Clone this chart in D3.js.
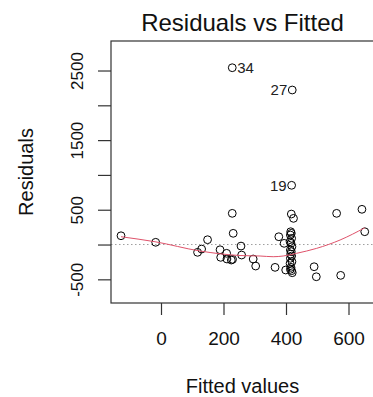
<!DOCTYPE html>
<html>
<head>
<meta charset="utf-8">
<script src="https://cdn.jsdelivr.net/npm/d3@7"></script>
<style>
  body { margin: 0; background: white; }
  svg { font-family: "Liberation Sans", Arial, sans-serif; }
</style>
</head>
<body>
<script>
// Fitted values of the model (x) for every observation.
const fitted = [-128, -17, 117, 130, 149, 189, 191, 210, 211, 228, 231, 229, 225,
    256, 258, 295, 303, 365, 377, 394, 399,
    415, 417, 414, 418, 413, 416, 419, 414, 417, 415, 418, 414, 419, 413, 416, 414, 418, 420,
    417, 424, 490, 497, 562, 575, 643, 652,
    228, 420, 418];

// Residuals for the same observations.
const residuals = [126, 32, -112, -65, 69, -75, -184, -126, -208, 448, 161, -213, -223,
    -22, -151, -208, -309, -328, 112, 17, -366,
    184, 161, 137, 89, 40, 17, -32, -79, -103, -137, -165, -198, -247, -270, -328, -356, -376, -405,
    438, 376, -319, -463, 448, -443, 506, 184,
    2540, 2220, 851];

// Observation labels ("" when the point is not flagged).
const pointLabels = Array(47).fill("").concat(["34", "27", "19"]);

// Lowess smoother.
const smoothX = [-128, -19, 125, 253, 317, 359, 391, 434, 498, 573, 652];
const smoothY = [112, 40, -93, -158, -165, -175, -165, -126, -55, 65, 240];

// Tick values, and the y ticks that carry a label.
const xTicks = [0, 200, 400, 600];
const yTicks = [-500, 0, 500, 1000, 1500, 2000, 2500];
const yLabels = [-500, 500, 1500, 2500];

// Plot region.
const Left = 111, Right = 374, Top = 41, Bottom = 303;

const svg = d3.select("body").append("svg")
    .attr("width", 373)
    .attr("height", 397);

const x = d3.scaleLinear().domain([-160, 681.6]).range([Left, Right]);
const y = d3.scaleLinear().domain([-840, 2924]).range([Bottom, Top]);

// Dotted zero line.
svg.append("line")
    .attr("x1", Left).attr("x2", Right)
    .attr("y1", y(0)).attr("y2", y(0))
    .attr("stroke", "#9e9e9e")
    .attr("stroke-width", 1)
    .attr("stroke-dasharray", "1.5,2.5");

// Points.
svg.append("g")
    .selectAll("circle")
    .data(d3.range(fitted.length))
    .join("circle")
    .attr("cx", i => x(fitted[i]))
    .attr("cy", i => y(residuals[i]))
    .attr("r", 3.9)
    .attr("fill", "none")
    .attr("stroke", "black")
    .attr("stroke-width", 1);

// Smoother line (red).
svg.append("path")
    .datum(d3.range(smoothX.length))
    .attr("fill", "none")
    .attr("stroke", "#DF536B")
    .attr("stroke-width", 1)
    .attr("d", d3.line().curve(d3.curveMonotoneX)
        .x(i => x(smoothX[i]))
        .y(i => y(smoothY[i])));

// Labels for flagged observations: right of point when left of mean, else left.
const meanFitted = d3.mean(fitted);
svg.append("g")
    .selectAll("text")
    .data(d3.range(fitted.length).filter(i => pointLabels[i] !== ""))
    .join("text")
    .attr("x", i => x(fitted[i]) + (fitted[i] < meanFitted ? 5 : -5))
    .attr("y", i => y(residuals[i]))
    .attr("dy", "0.36em")
    .attr("text-anchor", i => fitted[i] < meanFitted ? "start" : "end")
    .attr("font-size", 15)
    .attr("fill", "#222")
    .text(i => pointLabels[i]);

// Box around the plot.
svg.append("rect")
    .attr("x", Left).attr("y", Top)
    .attr("width", Right - Left).attr("height", Bottom - Top)
    .attr("fill", "none")
    .attr("stroke", "#333")
    .attr("stroke-width", 1.2);

// X axis.
const xAxis = svg.append("g")
    .attr("transform", `translate(0,${Bottom})`)
    .call(d3.axisBottom(x).tickValues(xTicks).tickFormat(d => String(d))
        .tickSize(12).tickPadding(17).tickSizeOuter(0));
xAxis.select(".domain").remove();
xAxis.selectAll("line").attr("stroke", "#333").attr("stroke-width", 1.2);
xAxis.selectAll("text").attr("font-size", 19).attr("fill", "#111");

// Y axis with rotated labels; only every other tick is labelled (hyphen minus, as in R).
const yAxis = svg.append("g")
    .attr("transform", `translate(${Left},0)`)
    .call(d3.axisLeft(y).tickValues(yTicks)
        .tickFormat(d => yLabels.includes(d) ? String(d) : "")
        .tickSize(13).tickSizeOuter(0));
yAxis.select(".domain").remove();
yAxis.selectAll("line").attr("stroke", "#333").attr("stroke-width", 1.2);
yAxis.selectAll("text")
    .attr("x", null).attr("dy", null)
    .attr("text-anchor", "middle")
    .attr("transform", "translate(-28,0) rotate(-90)")
    .attr("font-size", 17)
    .attr("fill", "#111");

// Title.
svg.append("text")
    .attr("x", (Left + Right) / 2)
    .attr("y", 31)
    .attr("text-anchor", "middle")
    .attr("font-size", 24)
    .attr("fill", "#111")
    .text("Residuals vs Fitted");

// Axis titles.
svg.append("text")
    .attr("x", (Left + Right) / 2)
    .attr("y", 393)
    .attr("text-anchor", "middle")
    .attr("font-size", 20)
    .attr("fill", "#111")
    .text("Fitted values");

svg.append("text")
    .attr("transform", `translate(33,${(Top + Bottom) / 2}) rotate(-90)`)
    .attr("text-anchor", "middle")
    .attr("font-size", 20)
    .attr("fill", "#111")
    .text("Residuals");
</script>
</body>
</html>
